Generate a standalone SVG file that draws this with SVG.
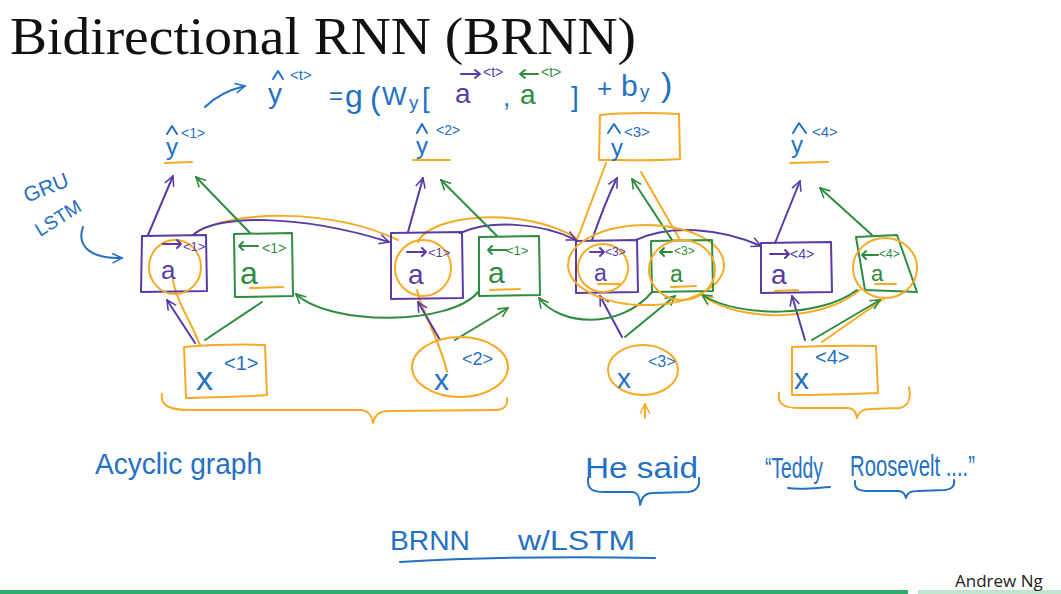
<svg xmlns="http://www.w3.org/2000/svg" width="1061" height="594" viewBox="0 0 1061 594">
<style>
.s{fill:none;stroke-width:2;stroke-linecap:round;stroke-linejoin:round}
.p{stroke:#5a3ba6}.g{stroke:#2e8c3e}.o{stroke:#f7aa25}.b{stroke:#2470c2}
text{font-family:"Liberation Sans","DejaVu Sans",sans-serif}
text.serif{font-family:"Liberation Serif","DejaVu Serif",serif}
text.foot{font-family:"Open Sans","Liberation Sans",sans-serif}
.tb{fill:#2470c2}.tp{fill:#5a3ba6}.tg{fill:#2e8c3e}
</style>
<defs>
<marker id="mp" viewBox="0 0 10 10" refX="9" refY="5" markerWidth="6" markerHeight="6" orient="auto"><path d="M1,1 L9,5 L1,9" fill="none" stroke="#5a3ba6" stroke-width="1.3"/></marker>
<marker id="mg" viewBox="0 0 10 10" refX="9" refY="5" markerWidth="6" markerHeight="6" orient="auto"><path d="M1,1 L9,5 L1,9" fill="none" stroke="#2e8c3e" stroke-width="1.3"/></marker>
<marker id="mo" viewBox="0 0 10 10" refX="9" refY="5" markerWidth="6" markerHeight="6" orient="auto"><path d="M1,1 L9,5 L1,9" fill="none" stroke="#f7aa25" stroke-width="1.3"/></marker>
<marker id="mb" viewBox="0 0 10 10" refX="9" refY="5" markerWidth="6" markerHeight="6" orient="auto"><path d="M1,1 L9,5 L1,9" fill="none" stroke="#2470c2" stroke-width="1.3"/></marker>
</defs>
<rect width="1061" height="594" fill="#ffffff"/>

<g id="title">
<text class="serif" x="10" y="54" font-size="52" textLength="626" lengthAdjust="spacingAndGlyphs" fill="#111">Bidirectional RNN (BRNN)</text>
</g>

<g id="formula">
<path class="s b" d="M205,107 Q220,92 245,86" marker-end="url(#mb)"/>
<path class="s b" d="M273,79 L278,71 L283,79"/>
<text class="tb" x="268" y="103" font-size="28">y</text>
<text class="tb" x="290" y="80" font-size="15">&lt;t&gt;</text>
<text class="tb" x="329" y="104" font-size="24">=</text>
<text class="tb" x="345" y="107" font-size="32">g</text>
<text class="tb" x="370" y="109" font-size="32">(</text>
<text class="tb" x="382" y="105" font-size="26">W</text>
<text class="tb" x="409" y="109" font-size="19">y</text>
<text class="tb" x="422" y="107" font-size="28">[</text>
<path class="s p" d="M461,74 L480,74 M475,70 L480,74 L475,78"/>
<text class="tp" x="455" y="103" font-size="28">a</text>
<text class="tp" x="483" y="77" font-size="14">&lt;t&gt;</text>
<text class="tb" x="503" y="106" font-size="26">,</text>
<path class="s g" d="M538,74 L520,74 M525,70 L520,74 L525,78"/>
<text class="tg" x="520" y="104" font-size="28">a</text>
<text class="tg" x="541" y="77" font-size="14">&lt;t&gt;</text>
<text class="tb" x="571" y="106" font-size="28">]</text>
<text class="tb" x="597" y="97" font-size="26">+</text>
<text class="tb" x="621" y="96" font-size="30">b</text>
<text class="tb" x="640" y="98" font-size="19">y</text>
<text class="tb" x="661" y="96" font-size="34">)</text>
</g>

<g id="gru-lstm">
<text class="tb" x="27" y="203" font-size="21" transform="rotate(-22 27 203)">GRU</text>
<text class="tb" x="40" y="237" font-size="19" transform="rotate(-32 40 237)">LSTM</text>
<path class="s b" d="M83,227 C76,247 92,259 122,258" marker-end="url(#mb)"/>
</g>

<g id="connectors">
<path class="s o" d="M200,345 C190,320 176,300 173,280"/>
<path class="s o" d="M195,233 C232,210 330,208 398,240"/>
<path class="s o" d="M447,372 C440,340 421,310 417,290"/>
<path class="s o" d="M418,242 C430,214 525,206 576,238"/>
<path class="s o" d="M577,240 L606,163"/>
<path class="s o" d="M680,240 L641,172"/>
<path class="s o" d="M860,290 C820,323 740,322 703,296" marker-end="url(#mo)"/>
<path class="s o" d="M822,342 L885,298"/>
<path class="s o" d="M645,418 L645,404" marker-end="url(#mo)"/>
<path class="s p" d="M148,235 L173,176" marker-end="url(#mp)"/>
<path class="s p" d="M408,232 L423,178" marker-end="url(#mp)"/>
<path class="s p" d="M592,240 Q606,200 617,178" marker-end="url(#mp)"/>
<path class="s p" d="M775,243 L800,181" marker-end="url(#mp)"/>
<path class="s p" d="M195,343 L167,300" marker-end="url(#mp)"/>
<path class="s p" d="M440,340 L418,302" marker-end="url(#mp)"/>
<path class="s p" d="M622,337 L600,296" marker-end="url(#mp)"/>
<path class="s p" d="M805,340 L792,296" marker-end="url(#mp)"/>
<path class="s p" d="M193,235 C215,214 300,214 389,242" marker-end="url(#mp)"/>
<path class="s p" d="M460,233 C490,220 540,222 576,240" marker-end="url(#mp)"/>
<path class="s p" d="M636,240 C670,224 720,228 761,246" marker-end="url(#mp)"/>
<path class="s g" d="M250,233 L196,177" marker-end="url(#mg)"/>
<path class="s g" d="M497,236 L441,180" marker-end="url(#mg)"/>
<path class="s g" d="M672,240 L632,179" marker-end="url(#mg)"/>
<path class="s g" d="M872,235 L820,188" marker-end="url(#mg)"/>
<path class="s g" d="M205,340 L262,302"/>
<path class="s g" d="M455,340 L508,308" marker-end="url(#mg)"/>
<path class="s g" d="M625,337 L675,296" marker-end="url(#mg)"/>
<path class="s g" d="M812,340 L880,300" marker-end="url(#mg)"/>
<path class="s g" d="M478,292 C450,326 330,326 296,294" marker-end="url(#mg)"/>
<path class="s g" d="M652,292 C620,330 560,326 539,298" marker-end="url(#mg)"/>
<path class="s g" d="M857,290 C820,318 740,318 702,295" marker-end="url(#mg)"/>
</g>

<g id="y1">
<path class="s b" d="M167,134 L172,126 L177,134"/>
<text class="tb" x="166" y="155" font-size="24">y</text>
<text class="tb" x="181" y="138" font-size="14">&lt;1&gt;</text>
<path class="s o" d="M165,163 L192,162"/>
</g>
<g id="y2">
<path class="s b" d="M417,133 L422,124 L427,133"/>
<text class="tb" x="416" y="154" font-size="24">y</text>
<text class="tb" x="436" y="135" font-size="14">&lt;2&gt;</text>
<path class="s o" d="M413,160 L450,160"/>
</g>
<g id="y3">
<path class="s o" d="M600,115 C630,112 660,113 679,114 L680,159 C655,161 625,160 599,160 Z"/>
<path class="s b" d="M608,133 L614,124 L620,133"/>
<text class="tb" x="611" y="156" font-size="24">y</text>
<text class="tb" x="624" y="137" font-size="15">&lt;3&gt;</text>
</g>
<g id="y4">
<path class="s b" d="M793,133 L799,123 L806,133"/>
<text class="tb" x="791" y="153" font-size="24">y</text>
<text class="tb" x="812" y="137" font-size="15">&lt;4&gt;</text>
<path class="s o" d="M790,163 L828,162"/>
</g>

<g id="af1">
<path class="s p" d="M142,236 L206,235 L207,291 L141,292 Z"/>
<ellipse class="s o" cx="175" cy="267" rx="26" ry="27"/>
<path class="s p" d="M163,244 L181,244 M177,240 L181,244 L177,248"/>
<text class="tp" x="183" y="251" font-size="13">&lt;1&gt;</text>
<text class="tp" x="161" y="279" font-size="26">a</text>
</g>
<g id="ab1">
<path class="s g" d="M234,234 L292,233 L293,296 L235,297 Z"/>
<path class="s g" d="M258,246 L239,246 M243,242 L239,246 L243,250"/>
<text class="tg" x="262" y="253" font-size="14">&lt;1&gt;</text>
<text class="tg" x="240" y="284" font-size="32">a</text>
<path class="s o" d="M250,288 L283,287"/>
</g>
<g id="af2">
<path class="s p" d="M391,233 L462,232 L463,298 L391,299 Z"/>
<ellipse class="s o" cx="423" cy="268" rx="28" ry="28"/>
<path class="s p" d="M407,252 L426,252 M422,248 L426,252 L422,256"/>
<text class="tp" x="428" y="257" font-size="13">&lt;1&gt;</text>
<text class="tp" x="408" y="284" font-size="28">a</text>
</g>
<g id="ab2">
<path class="s g" d="M479,237 L539,236 L540,295 L479,296 Z"/>
<path class="s g" d="M507,250 L488,250 M492,246 L488,250 L492,254"/>
<text class="tg" x="506" y="255" font-size="13">&lt;1&gt;</text>
<text class="tg" x="488" y="283" font-size="30">a</text>
<path class="s o" d="M490,290 L520,289"/>
</g>
<g id="af3">
<path class="s p" d="M576,241 L637,240 L638,292 L576,293 Z"/>
<ellipse class="s o" cx="603" cy="268" rx="25" ry="24"/>
<ellipse class="s o" cx="646" cy="265" rx="78" ry="40"/>
<path class="s p" d="M590,252 L604,252 M600,248 L604,252 L600,256"/>
<text class="tp" x="605" y="256" font-size="12">&lt;3&gt;</text>
<text class="tp" x="594" y="281" font-size="23">a</text>
<path class="s o" d="M598,284 L620,284"/>
</g>
<g id="ab3">
<path class="s g" d="M651,241 L712,240 L713,291 L652,292 Z"/>
<ellipse class="s o" cx="682" cy="270" rx="33" ry="30"/>
<path class="s g" d="M672,252 L660,252 M664,248 L660,252 L664,256"/>
<text class="tg" x="674" y="255" font-size="12">&lt;3&gt;</text>
<text class="tg" x="670" y="282" font-size="23">a</text>
<path class="s o" d="M671,287 L696,286"/>
</g>
<g id="af4">
<path class="s p" d="M761,243 L831,242 L832,292 L761,293 Z"/>
<path class="s p" d="M770,254 L789,254 M785,250 L789,254 L785,258"/>
<text class="tp" x="790" y="259" font-size="14">&lt;4&gt;</text>
<text class="tp" x="771" y="284" font-size="28">a</text>
<path class="s o" d="M775,291 L798,290"/>
</g>
<g id="ab4">
<path class="s g" d="M856,237 L897,235 L917,292 L865,290 Z"/>
<ellipse class="s o" cx="885" cy="268" rx="32" ry="30"/>
<path class="s g" d="M878,255 L862,255 M866,251 L862,255 L866,259"/>
<text class="tg" x="879" y="258" font-size="12">&lt;4&gt;</text>
<text class="tg" x="871" y="281" font-size="22">a</text>
<path class="s o" d="M875,284 L896,284"/>
</g>

<g id="x1">
<path class="s o" d="M184,347 C210,345 240,344 265,345 L267,395 C240,397 210,397 186,398 Z"/>
<text class="tb" x="196" y="390" font-size="34">x</text>
<text class="tb" x="224" y="370" font-size="20">&lt;1&gt;</text>
</g>
<g id="x2">
<ellipse class="s o" cx="460" cy="367" rx="48" ry="30"/>
<text class="tb" x="434" y="390" font-size="30">x</text>
<text class="tb" x="462" y="365" font-size="18">&lt;2&gt;</text>
</g>
<g id="x3">
<ellipse class="s o" cx="643" cy="370" rx="35" ry="25"/>
<text class="tb" x="617" y="388" font-size="28">x</text>
<text class="tb" x="648" y="367" font-size="16">&lt;3&gt;</text>
</g>
<g id="x4">
<path class="s o" d="M792,347 C820,346 850,345 876,346 L878,393 C850,394 820,395 792,395 Z"/>
<text class="tb" x="794" y="389" font-size="30">x</text>
<text class="tb" x="815" y="364" font-size="20">&lt;4&gt;</text>
</g>

<g id="braces">
<path class="s o" d="M162,394 C160,406 170,410 190,410 L360,410 C368,410 372,416 373,423 C375,414 380,411 390,411 L495,410 C505,410 508,405 507,398"/>
<path class="s o" d="M779,393 C777,405 785,408 800,408 L848,408 C853,408 856,412 857,418 C859,411 863,409 870,409 L900,408 C909,406 911,397 909,387"/>
</g>

<g id="notes">
<text class="tb" x="95" y="474" font-size="30" textLength="167" lengthAdjust="spacingAndGlyphs">Acyclic graph</text>
<text class="tb" x="585" y="478" font-size="30" textLength="113" lengthAdjust="spacingAndGlyphs">He said</text>
<path class="s b" d="M588,478 C587,490 593,492 605,492 L632,492 C637,492 640,497 640,505 C642,496 646,493 652,493 L688,492 C697,491 700,486 699,478"/>
<text class="tb" x="765" y="478" font-size="30" textLength="58" lengthAdjust="spacingAndGlyphs">“Teddy</text>
<path class="s b" d="M788,488 C800,490 815,488 830,487"/>
<text class="tb" x="850" y="476" font-size="30" textLength="125" lengthAdjust="spacingAndGlyphs">Roosevelt ....”</text>
<path class="s b" d="M855,481 C854,490 860,491 870,491 L898,491 C903,491 905,494 906,498 C907,493 910,491 918,491 L945,490 C953,489 955,485 954,480"/>
<text class="tb" x="390" y="550" font-size="28" textLength="80" lengthAdjust="spacingAndGlyphs">BRNN</text>
<text class="tb" x="518" y="550" font-size="28" textLength="117" lengthAdjust="spacingAndGlyphs">w/LSTM</text>
<path class="s b" d="M400,562 C470,558 560,556 655,558"/>
</g>

<g id="footer">
<rect x="0" y="590" width="908" height="4" fill="#2eac6c"/>
<rect x="918" y="590" width="143" height="4" fill="#bfe4d0"/>
<text class="foot" x="955" y="587" font-size="17" fill="#222">Andrew Ng</text>
</g>
</svg>
